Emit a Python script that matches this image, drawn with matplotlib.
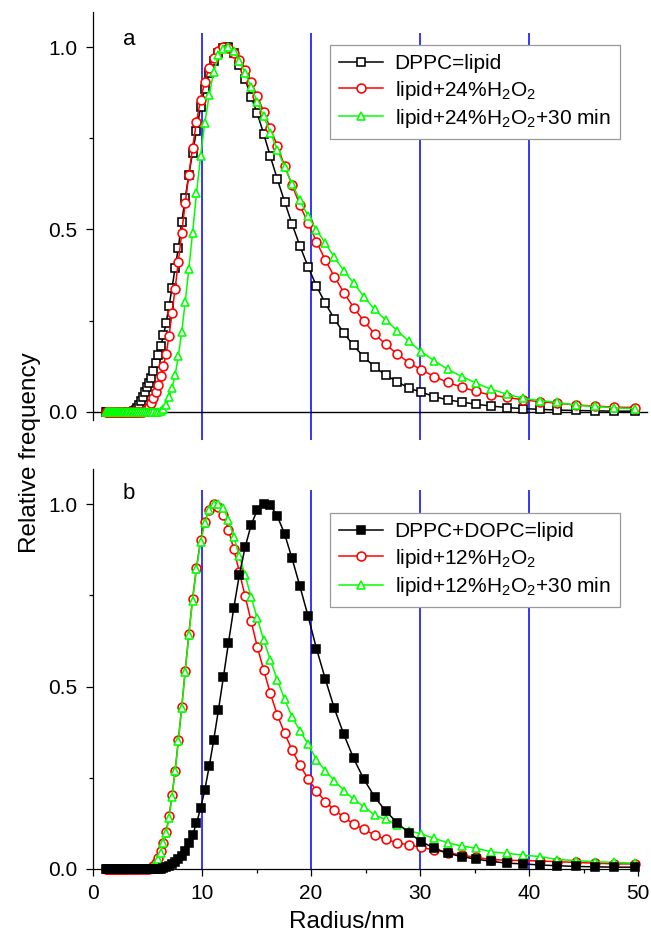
import matplotlib
matplotlib.use('Agg')
import matplotlib.pyplot as plt
from matplotlib.ticker import MultipleLocator

plt.rcParams['font.family'] = ['Liberation Sans', 'DejaVu Sans']
plt.rcParams['mathtext.fontset'] = 'custom'
plt.rcParams['mathtext.rm'] = 'Liberation Sans'

# radius bins (nm), log spaced
radius = [1.234, 1.282, 1.332, 1.385, 1.439, 1.496, 1.554, 1.615, 1.679, 1.745,
          1.813, 1.884, 1.958, 2.035, 2.115, 2.198, 2.284, 2.374, 2.467, 2.564,
          2.664, 2.769, 2.878, 2.991, 3.108, 3.230, 3.357, 3.489, 3.626, 3.768,
          3.916, 4.069, 4.229, 4.395, 4.568, 4.747, 4.933, 5.127, 5.328, 5.537,
          5.755, 5.981, 6.215, 6.459, 6.713, 6.976, 7.250, 7.535, 7.830, 8.138,
          8.457, 8.789, 9.134, 9.493, 9.865, 10.25, 10.66, 11.07, 11.51, 11.96,
          12.43, 12.92, 13.42, 13.95, 14.50, 15.07, 15.66, 16.27, 16.91, 17.58,
          18.26, 18.98, 19.73, 20.50, 21.31, 22.14, 23.01, 23.91, 24.85, 25.83,
          26.84, 27.90, 28.99, 30.13, 31.31, 32.54, 33.82, 35.15, 36.53, 37.96,
          39.45, 41.00, 42.61, 44.28, 46.02, 47.82, 49.70]

# panel a
dppc = [0, 0, 0, 0, 0, 0, 0, 0, 0, 0,
        0, 0, 0, 0, 0, 0, 0, 0, 0, 0,
        0, 0, 0, 0, 0, 0, 0, 0, 0.001, 0.003,
        0.006, 0.012, 0.02, 0.03, 0.042, 0.055, 0.067, 0.079, 0.094, 0.112,
        0.133, 0.155, 0.18, 0.21, 0.245, 0.29, 0.34, 0.395, 0.45, 0.52,
        0.585, 0.65, 0.71, 0.77, 0.835, 0.885, 0.93, 0.962, 0.985, 0.997,
        1.0, 0.985, 0.95, 0.912, 0.864, 0.818, 0.762, 0.70, 0.638, 0.576,
        0.515, 0.455, 0.398, 0.345, 0.298, 0.255, 0.216, 0.182, 0.150, 0.124,
        0.101, 0.083, 0.065, 0.054, 0.042, 0.033, 0.027, 0.021, 0.016, 0.012,
        0.009, 0.007, 0.005, 0.004, 0.003, 0.002, 0.002]
h2o2_24 = [0, 0, 0, 0, 0, 0, 0, 0, 0, 0,
           0, 0, 0, 0, 0, 0, 0, 0, 0, 0,
           0, 0, 0, 0, 0, 0, 0, 0, 0, 0,
           0, 0, 0, 0, 0, 0.003, 0.007, 0.014, 0.025, 0.038,
           0.055, 0.075, 0.098, 0.125, 0.16, 0.208, 0.272, 0.338, 0.412, 0.49,
           0.572, 0.65, 0.724, 0.795, 0.855, 0.905, 0.943, 0.97, 0.99, 1.0,
           0.997, 0.985, 0.965, 0.937, 0.905, 0.866, 0.823, 0.777, 0.729, 0.674,
           0.622, 0.567, 0.517, 0.467, 0.416, 0.371, 0.327, 0.286, 0.249, 0.214,
           0.185, 0.159, 0.135, 0.115, 0.097, 0.081, 0.068, 0.056, 0.046, 0.040,
           0.033, 0.028, 0.024, 0.019, 0.016, 0.013, 0.012]
h2o2_24_30 = [0, 0, 0, 0, 0, 0, 0, 0, 0, 0,
              0, 0, 0, 0, 0, 0, 0, 0, 0, 0,
              0, 0, 0, 0, 0, 0, 0, 0, 0, 0,
              0, 0, 0, 0, 0, 0, 0, 0, 0, 0,
              0, 0, 0.003, 0.008, 0.02, 0.04, 0.065, 0.101, 0.153, 0.22,
              0.30, 0.391, 0.491, 0.599, 0.70, 0.791, 0.868, 0.932, 0.978, 0.995,
              1.0, 0.988, 0.962, 0.93, 0.89, 0.85, 0.81, 0.765, 0.718, 0.672,
              0.625, 0.58, 0.537, 0.499, 0.462, 0.424, 0.387, 0.353, 0.316, 0.281,
              0.252, 0.223, 0.193, 0.165, 0.140, 0.117, 0.097, 0.079, 0.062, 0.049,
              0.037, 0.031, 0.026, 0.018, 0.015, 0.011, 0.009]

# panel b
dppc_dopc = [0, 0, 0, 0, 0, 0, 0, 0, 0, 0,
             0, 0, 0, 0, 0, 0, 0, 0, 0, 0,
             0, 0, 0, 0, 0, 0, 0, 0, 0, 0,
             0, 0, 0, 0, 0, 0, 0, 0, 0, 0,
             0, 0, 0.001, 0.003, 0.006, 0.009, 0.014, 0.02, 0.027, 0.036,
             0.05, 0.07, 0.093, 0.125, 0.166, 0.216, 0.281, 0.353, 0.436, 0.525,
             0.62, 0.716, 0.805, 0.881, 0.942, 0.984, 1.0, 0.997, 0.967, 0.918,
             0.851, 0.775, 0.693, 0.604, 0.521, 0.44, 0.369, 0.303, 0.246, 0.198,
             0.159, 0.127, 0.098, 0.075, 0.057, 0.043, 0.034, 0.027, 0.021, 0.016,
             0.014, 0.011, 0.009, 0.007, 0.006, 0.005, 0.005]
h2o2_12 = [0, 0, 0, 0, 0, 0, 0, 0, 0, 0,
           0, 0, 0, 0, 0, 0, 0, 0, 0, 0,
           0, 0, 0, 0, 0, 0, 0, 0, 0, 0,
           0, 0, 0, 0, 0, 0, 0, 0, 0.003, 0.008,
           0.017, 0.03, 0.048, 0.07, 0.102, 0.145, 0.203, 0.269, 0.353, 0.444,
           0.543, 0.644, 0.741, 0.826, 0.901, 0.951, 0.985, 1.0, 0.993, 0.97,
           0.929, 0.876, 0.815, 0.748, 0.68, 0.609, 0.545, 0.481, 0.422, 0.372,
           0.326, 0.285, 0.247, 0.215, 0.184, 0.162, 0.142, 0.123, 0.109, 0.093,
           0.081, 0.072, 0.066, 0.059, 0.052, 0.045, 0.038, 0.032, 0.026, 0.024,
           0.023, 0.022, 0.020, 0.018, 0.016, 0.014, 0.014]
h2o2_12_30 = [0, 0, 0, 0, 0, 0, 0, 0, 0, 0,
              0, 0, 0, 0, 0, 0, 0, 0, 0, 0,
              0, 0, 0, 0, 0, 0, 0, 0, 0, 0,
              0, 0, 0, 0, 0, 0, 0, 0, 0.002, 0.006,
              0.013, 0.027, 0.045, 0.07, 0.10, 0.14, 0.198, 0.268, 0.351, 0.44,
              0.54, 0.64, 0.735, 0.822, 0.895, 0.947, 0.985, 1.0, 1.0, 0.988,
              0.956, 0.909, 0.858, 0.805, 0.746, 0.687, 0.627, 0.573, 0.518, 0.465,
              0.417, 0.379, 0.342, 0.30, 0.269, 0.242, 0.215, 0.191, 0.171, 0.148,
              0.136, 0.121, 0.105, 0.096, 0.084, 0.072, 0.063, 0.057, 0.047, 0.043,
              0.038, 0.034, 0.026, 0.023, 0.020, 0.018, 0.016]

labels_a = ['DPPC=lipid', 'lipid+24%H$_\\mathregular{2}$O$_\\mathregular{2}$',
            'lipid+24%H$_\\mathregular{2}$O$_\\mathregular{2}$+30 min']
labels_b = ['DPPC+DOPC=lipid', 'lipid+12%H$_\\mathregular{2}$O$_\\mathregular{2}$',
            'lipid+12%H$_\\mathregular{2}$O$_\\mathregular{2}$+30 min']
guide_x = [10, 20, 30, 40]

fig = plt.figure(figsize=(6.51, 9.35), dpi=100)
ax_a = fig.add_axes([93/651, 1-440/935, 545/651, 428/935])
ax_b = fig.add_axes([93/651, 1-869/935, 545/651, 400/935])

line_kw = dict(lw=1.1, ms=6.4, mew=1.15, clip_on=False)

# panel a
ax_a.vlines(guide_x, -0.077, 1.038, color='#0000ff', lw=1.1, zorder=1)
ax_a.axhline(0, xmin=0, xmax=1.016, color='black', lw=1.0, clip_on=False, zorder=1.5)
ax_a.plot(radius, dppc, color='black', marker='s', mfc='white', mec='black', label=labels_a[0], zorder=3, **line_kw)
ax_a.plot(radius, h2o2_24, color='#ff0000', marker='o', mfc='white', mec='#ff0000', label=labels_a[1], zorder=4, **line_kw)
ax_a.plot(radius, h2o2_24_30, color='#00ff00', marker='^', mfc='white', mec='#00ff00', label=labels_a[2], zorder=5, **line_kw)
ax_a.set_xlim(0, 50)
ax_a.set_ylim(-0.077, 1.096)
for s in ['top', 'right', 'bottom']:
    ax_a.spines[s].set_visible(False)
ax_a.spines['left'].set_bounds(-0.022, 1.096)
ax_a.tick_params(axis='x', which='both', bottom=False, labelbottom=False)
ax_a.text(3.3, 1.02, 'a', fontsize=16, ha='center', va='center')

# panel b
ax_b.vlines(guide_x, 0, 1.038, color='#0000ff', lw=1.1, zorder=1)
ax_b.plot(radius, h2o2_12, color='#ff0000', marker='o', mfc='white', mec='#ff0000', label=labels_b[1], zorder=3, **line_kw)
ax_b.plot(radius, h2o2_12_30, color='#00ff00', marker='^', mfc='white', mec='#00ff00', label=labels_b[2], zorder=4, **line_kw)
ax_b.plot(radius, dppc_dopc, color='black', marker='s', mfc='black', mec='black', label=labels_b[0], zorder=5, **line_kw)
ax_b.set_xlim(0, 50)
ax_b.set_ylim(0, 1.096)
for s in ['top', 'right']:
    ax_b.spines[s].set_visible(False)
ax_b.xaxis.set_major_locator(MultipleLocator(10))
ax_b.xaxis.set_minor_locator(MultipleLocator(5))
ax_b.text(3.3, 1.03, 'b', fontsize=16, ha='center', va='center')

for ax in (ax_a, ax_b):
    ax.yaxis.set_major_locator(MultipleLocator(0.5))
    ax.yaxis.set_minor_locator(MultipleLocator(0.25))
    ax.yaxis.set_major_formatter(plt.FormatStrFormatter('%.1f'))
    ax.tick_params(which='major', direction='out', length=5, width=0.9, labelsize=15, pad=6)
    ax.tick_params(which='minor', direction='out', length=3, width=0.9)
    for s in ax.spines.values():
        s.set_linewidth(0.9)

leg_kw = dict(loc='upper left', borderaxespad=0, fontsize=15, numpoints=1,
              fancybox=False, edgecolor='#999999', framealpha=1,
              labelspacing=0.25, handlelength=2.1, handletextpad=0.55, borderpad=0.45)
la = ax_a.legend(bbox_to_anchor=(0.435, 0.923), **leg_kw)
h, l = ax_b.get_legend_handles_labels()
order = [2, 0, 1]
lb = ax_b.legend([h[i] for i in order], [l[i] for i in order], bbox_to_anchor=(0.435, 0.89), **leg_kw)
for lg in (la, lb):
    lg.get_frame().set_linewidth(0.9)
    lg.set_zorder(10)

fig.text(0.046, 0.5155, 'Relative frequency', rotation=90, fontsize=17.5, ha='center', va='center')
fig.text(346.5/651, 0.014, 'Radius/nm', fontsize=17.5, ha='center', va='center')

fig.savefig('out.png', dpi=100)
